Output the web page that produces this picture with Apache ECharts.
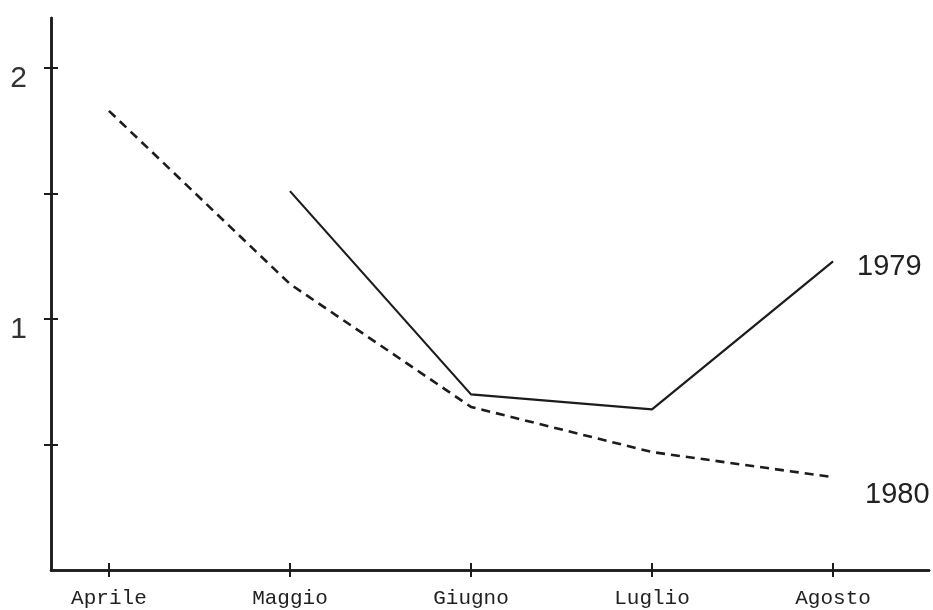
<!DOCTYPE html>
<html>
<head>
<meta charset="utf-8">
<script src="https://cdn.jsdelivr.net/npm/echarts@6/dist/echarts.min.js"></script>
<style>
html,body{margin:0;padding:0;background:#fff;}
#chart{width:933px;height:610px;}
</style>
</head>
<body>
<div id="chart"></div>
<script>
const months = ['Aprile', 'Maggio', 'Giugno', 'Luglio', 'Agosto'];
const series1979 = [null, 1.51, 0.70, 0.64, 1.23];
const series1980 = [1.83, 1.14, 0.65, 0.47, 0.37];
const yTickValues = [0.5, 1, 1.5, 2];
const yLabelValues = [1, 2];
const seriesNames = ['1979', '1980'];

const ink = '#1c1c1c';
const numFont = '"Liberation Sans Narrow", "Liberation Sans", sans-serif';
const idx = months.map((m, i) => i);

const chart = echarts.init(document.getElementById('chart'));
const gridBox = {left: 51, right: 4, top: 18, bottom: 40};
const xBase = {
  type: 'value', min: -0.32, max: 4.53,
  splitLine: {show: false}
};
const yBase = {
  type: 'value', min: 0, max: 2.2,
  splitLine: {show: false}
};
chart.setOption({
  backgroundColor: '#fff',
  animation: false,
  grid: [Object.assign({}, gridBox), Object.assign({}, gridBox)],
  xAxis: [
    Object.assign({}, xBase, {
      gridIndex: 0, position: 'bottom',
      axisLine: {show: true, onZero: false, lineStyle: {color: ink, width: 2.5}},
      axisTick: {show: true, customValues: idx, length: 7, inside: false, lineStyle: {color: ink, width: 2}},
      axisLabel: {show: true, customValues: idx, margin: 18, fontFamily: '"Liberation Mono", monospace', fontSize: 21, color: '#222',
        formatter: v => months[Math.round(v)] || ''}
    }),
    Object.assign({}, xBase, {
      gridIndex: 1, position: 'bottom',
      axisLine: {show: true, onZero: false, lineStyle: {color: ink, width: 2.5}},
      axisTick: {show: true, customValues: idx, length: 7, inside: true, lineStyle: {color: ink, width: 2}},
      axisLabel: {show: false}
    })
  ],
  yAxis: [
    Object.assign({}, yBase, {
      gridIndex: 0, position: 'left',
      axisLine: {show: true, onZero: false, lineStyle: {color: ink, width: 2.5}},
      axisTick: {show: true, customValues: yTickValues, length: 7, inside: false, lineStyle: {color: ink, width: 2}},
      axisLabel: {show: true, customValues: yLabelValues, margin: 24, color: '#333',
        formatter: v => '{n|' + v + '}',
        rich: {n: {fontFamily: numFont, fontSize: 30, color: '#333', padding: [22, 0, 0, 0]}}}
    }),
    Object.assign({}, yBase, {
      gridIndex: 1, position: 'left',
      axisLine: {show: true, onZero: false, lineStyle: {color: ink, width: 2.5}},
      axisTick: {show: true, customValues: yTickValues, length: 7, inside: true, lineStyle: {color: ink, width: 2}},
      axisLabel: {show: false}
    })
  ],
  series: [
    {
      name: seriesNames[0], type: 'line', xAxisIndex: 0, yAxisIndex: 0,
      data: series1979.map((v, i) => [i, v]),
      showSymbol: false, symbol: 'none',
      lineStyle: {color: ink, width: 2.2, type: 'solid'},
      endLabel: {show: true, formatter: p => p.seriesName, fontFamily: numFont, fontSize: 29, color: '#222', offset: [16, 6]}
    },
    {
      name: seriesNames[1], type: 'line', xAxisIndex: 0, yAxisIndex: 0,
      data: series1980.map((v, i) => [i, v]),
      showSymbol: false, symbol: 'none',
      lineStyle: {color: ink, width: 2.6, type: [9, 6]},
      endLabel: {show: true, formatter: p => p.seriesName, fontFamily: numFont, fontSize: 29, color: '#222', offset: [24, 18]}
    }
  ]
});
</script>
</body>
</html>
